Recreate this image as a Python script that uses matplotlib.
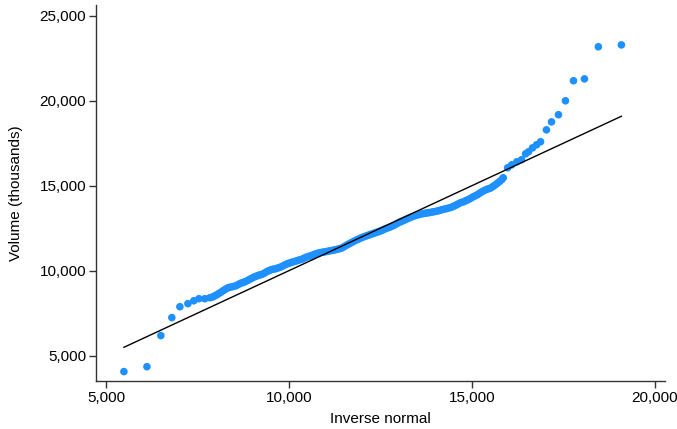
import numpy as np
import matplotlib.pyplot as plt

# Quantile plot points: inverse-normal quantile vs. volume (thousands)
inv_normal = [
    5490, 6120, 6500, 6800, 7020, 7240, 7400, 7540, 7700, 7840, 7900,
    7960, 8020, 8080, 8140, 8200, 8260, 8320, 8380, 8440, 8500,
    8560, 8620, 8680, 8740, 8800, 8860, 8920, 8980, 9040, 9100,
    9160, 9220, 9280, 9340, 9400, 9460, 9520, 9580, 9640, 9700,
    9760, 9820, 9880, 9940, 10000, 10060, 10120, 10180, 10240, 10300,
    10360, 10420, 10480, 10540, 10600, 10660, 10720, 10780, 10840, 10900,
    10960, 11020, 11080, 11140, 11200, 11260, 11320, 11380, 11440, 11500,
    11560, 11620, 11680, 11740, 11800, 11860, 11920, 11980, 12040, 12100,
    12160, 12220, 12280, 12340, 12400, 12460, 12520, 12580, 12640, 12700,
    12760, 12820, 12880, 12940, 13000, 13060, 13120, 13180, 13240, 13300,
    13360, 13420, 13480, 13540, 13600, 13660, 13720, 13780, 13840, 13900,
    13960, 14020, 14080, 14140, 14200, 14260, 14320, 14380, 14440, 14500,
    14560, 14620, 14680, 14740, 14800, 14860, 14920, 14980, 15040, 15100,
    15160, 15220, 15280, 15340, 15400, 15460, 15520, 15580, 15640, 15700,
    15760, 15820, 15860,
    15980, 16090, 16230, 16360, 16470, 16550, 16660, 16770, 16880,
    17040, 17180, 17370, 17560, 17780, 18080, 18460, 19090,
]
volume = [
    4060, 4350, 6180, 7240, 7880, 8060, 8230, 8350, 8350, 8410, 8440,
    8500, 8570, 8650, 8730, 8820, 8900, 8980, 9020, 9050, 9080,
    9120, 9190, 9260, 9300, 9350, 9410, 9480, 9550, 9620, 9670,
    9720, 9760, 9800, 9870, 9950, 10010, 10060, 10090, 10120, 10160,
    10200, 10260, 10330, 10390, 10440, 10480, 10520, 10560, 10600, 10640,
    10680, 10740, 10800, 10840, 10880, 10930, 10980, 11020, 11060, 11080,
    11100, 11125, 11150, 11175, 11200, 11230, 11260, 11290, 11330, 11400,
    11480, 11550, 11620, 11690, 11760, 11820, 11880, 11935, 11990, 12035,
    12080, 12125, 12170, 12215, 12260, 12305, 12350, 12410, 12470, 12515,
    12560, 12620, 12680, 12755, 12830, 12885, 12940, 13000, 13060, 13115,
    13170, 13215, 13260, 13295, 13330, 13355, 13380, 13400, 13420, 13445,
    13470, 13495, 13520, 13560, 13600, 13630, 13660, 13695, 13730, 13790,
    13850, 13920, 13990, 14035, 14080, 14140, 14200, 14275, 14350, 14415,
    14480, 14565, 14650, 14715, 14780, 14825, 14870, 14960, 15050, 15150,
    15250, 15360, 15470,
    16060, 16230, 16410, 16530, 16880, 17000, 17230, 17410, 17590,
    18290, 18760, 19180, 20000, 21180, 21290, 23180, 23290,
]

x_ticks = [5000, 10000, 15000, 20000]
y_ticks = [5000, 10000, 15000, 20000, 25000]

plt.rcParams['font.family'] = ['Liberation Sans', 'DejaVu Sans']

fig = plt.figure(figsize=(6.77, 4.29), dpi=100)
ax = fig.add_axes([0.1418, 0.112, 0.840, 0.876])

ax.scatter(inv_normal, volume, s=30, color='#1e90ff', edgecolors='none', zorder=2)
# reference line y = x over the range of the quantiles
ends = [min(inv_normal), max(inv_normal)]
ax.plot(ends, ends, color='black', lw=1.0, zorder=3)

ax.set_xlim(4727, 20273)
ax.set_ylim(3510, 25630)
ax.set_xticks(x_ticks)
ax.set_yticks(y_ticks)
ax.xaxis.set_major_formatter(plt.FuncFormatter(lambda v, p: f"{v:,.0f}"))
ax.yaxis.set_major_formatter(plt.FuncFormatter(lambda v, p: f"{v:,.0f}"))

for side in ['top', 'right']:
    ax.spines[side].set_visible(False)
for side in ['left', 'bottom']:
    ax.spines[side].set_color('#333333')
    ax.spines[side].set_linewidth(1.0)
ax.tick_params(length=5, width=1.0, color='#333333', labelsize=11, pad=2)

ax.set_xlabel("Inverse normal", fontsize=11, labelpad=5)
ax.set_ylabel("Volume (thousands)", fontsize=11, labelpad=12)

fig.savefig("out.png", dpi=100)
